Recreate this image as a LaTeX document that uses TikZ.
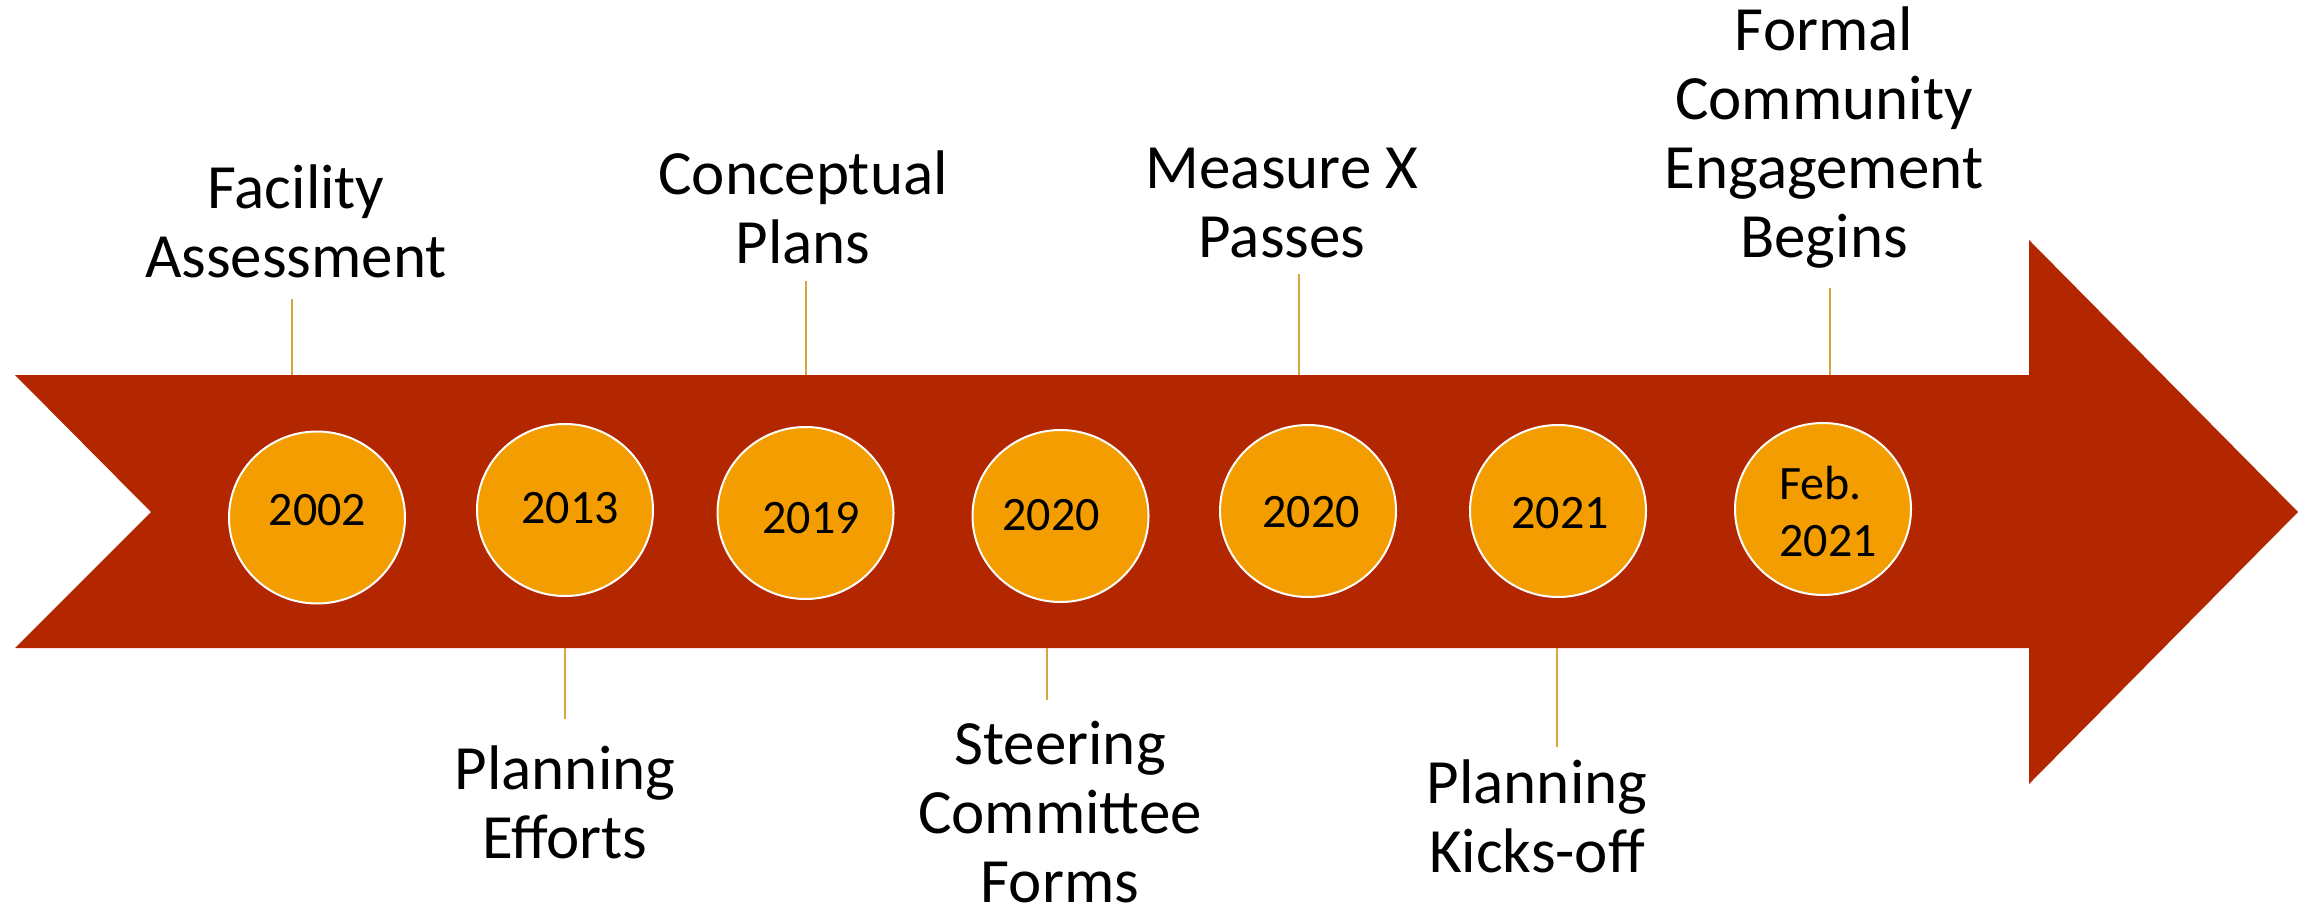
\documentclass[tikz,border=0pt]{standalone}
\usepackage{fontspec}
\setmainfont{Carlito}
\usetikzlibrary{shapes.geometric}
\definecolor{barred}{HTML}{B22600}
\definecolor{dotorange}{HTML}{F39D00}
\definecolor{tickgold}{HTML}{D6A63C}
\begin{document}
\begin{tikzpicture}[x=0.5pt,y=-0.5pt,
  dot/.style={ellipse, draw=white, line width=1pt, fill=dotorange, minimum width=88pt, minimum height=86pt, inner sep=0pt},
  year/.style={font=\fontsize{24}{28.5}\selectfont, inner sep=0pt, anchor=base},
  lbl/.style={font=\fontsize{31.5}{34.5}\selectfont, align=center, inner sep=0pt, anchor=base},
  ticklink/.style={draw=tickgold, line width=0.8pt}
]
\useasboundingbox (0,0) rectangle (2305,904);
% arrow band
\fill[barred] (15,375) -- (2029,375) -- (2029,240) -- (2298,512) -- (2029,784) -- (2029,648) -- (15,648) -- (151,512) -- cycle;

% circles
\node[dot] (c1) at (317,517.5) {};
\node[dot] (c2) at (565,510) {};
\node[dot] (c3) at (805.5,513) {};
\node[dot] (c4) at (1060.5,516) {};
\node[dot] (c5) at (1308,511) {};
\node[dot] (c6) at (1558,511) {};
\node[dot] (c7) at (1823,509) {};

% years
\node[year] (y1) at (317.5,525) {2002};
\node[year] (y2) at (570,523) {2013};
\node[year] (y3) at (811,533) {2019};
\node[year] (y4) at (1051,530) {2020};
\node[year] (y5) at (1311,527) {2020};
\node[year] (y6) at (1560,528) {2021};
\node[year, anchor=base west, align=left] (y7) at (1779,556) {Feb.\\2021};

% labels (anchor = baseline of last line)
\node[lbl] (l1) at (296,277) {Facility\\Assessment};
\node[lbl] (l2) at (565,858) {Planning\\Efforts};
\node[lbl] (l3) at (803,263) {Conceptual\\Plans};
\node[lbl] (l4) at (1060,902) {Steering\\Committee\\Forms};
\node[lbl] (l5) at (1282,257) {Measure X\\Passes};
\node[lbl] (l6) at (1537,872) {Planning\\Kicks-off};
\node[lbl] (l7) at (1824,257) {Formal\\Community\\Engagement\\Begins};

% ticks
\coordinate (a1) at (292,299);  \coordinate (b1) at (292,375);
\coordinate (a2) at (565,719);  \coordinate (b2) at (565,648);
\coordinate (a3) at (806,281);  \coordinate (b3) at (806,375);
\coordinate (a4) at (1047,700); \coordinate (b4) at (1047,648);
\coordinate (a5) at (1299,274); \coordinate (b5) at (1299,375);
\coordinate (a6) at (1557,747); \coordinate (b6) at (1557,648);
\coordinate (a7) at (1830,288); \coordinate (b7) at (1830,375);
\foreach \i in {1,...,7} { \draw[ticklink] (a\i) -- (b\i); }
\end{tikzpicture}
\end{document}
